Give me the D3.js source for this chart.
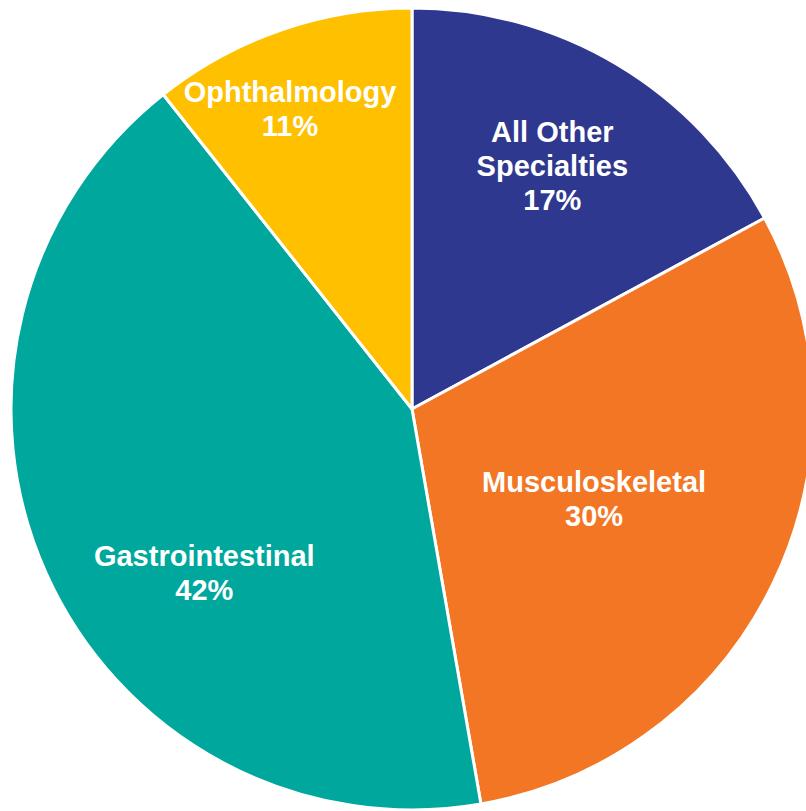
<!DOCTYPE html>
<html>
<head>
    <meta charset='utf-8'>
    <title>Specialties</title>
    <script src='https://cdn.jsdelivr.net/npm/d3@7/dist/d3.min.js'></script>
    <style>
        body { margin: 0; background: #fff; }
        svg { display: block; }
    </style>
</head>
<body>
    <svg width='806' height='811'></svg>
    <script>
        // data, clockwise from 12 o'clock
        const categories = ['All Other Specialties', 'Musculoskeletal', 'Gastrointestinal', 'Ophthalmology']
        const labelLines = [['All Other', 'Specialties', '17%'], ['Musculoskeletal', '30%'], ['Gastrointestinal', '42%'], ['Ophthalmology', '11%']]
        const shares = [17.1, 30.15, 42.1, 10.65]
        const colors = ['#2E388F', '#F27623', '#00A79D', '#FFC000']

        const svg = d3.select('svg')
        const cx = 412, cy = 409, radius = 401
        // label spots: [angle in degrees from top, fraction of radius]
        const labelSpots = [[30, 0.70], [116.2, 0.506], [231.7, 0.66], [337.85, 0.807]]
        const lineHeight = 34

        const pie = d3.pie().sort(null).value(d => d)
        const arc = d3.arc().innerRadius(0).outerRadius(radius)
        const arcs = pie(shares)

        const g = svg.append('g').attr('transform', `translate(${cx}, ${cy})`)

        g.selectAll('path').data(arcs).enter()
            .append('path')
            .attr('d', arc)
            .attr('fill', (d, i) => colors[i])
            .attr('stroke', '#fff')
            .attr('stroke-width', 3)
            .attr('stroke-linejoin', 'round')

        const labels = g.selectAll('text.lbl').data(arcs).enter()
            .append('text')
            .attr('class', 'lbl')
            .attr('text-anchor', 'middle')
            .attr('fill', '#fff')
            .style('font-family', 'Liberation Sans, Arial, sans-serif')
            .style('font-weight', 'bold')
            .style('font-size', '29px')
            .attr('transform', (d, i) => {
                const a = labelSpots[i][0] * Math.PI / 180
                const r = labelSpots[i][1] * radius
                return `translate(${r * Math.sin(a)}, ${-r * Math.cos(a)})`
            })

        labels.each(function (d, i) {
            const lines = labelLines[i]
            const start = -(lines.length - 1) * lineHeight / 2 + 10
            d3.select(this).selectAll('tspan').data(lines).enter()
                .append('tspan')
                .attr('x', 0)
                .attr('y', (t, j) => start + j * lineHeight)
                .text(t => t)
        })
    </script>
</body>
</html>
